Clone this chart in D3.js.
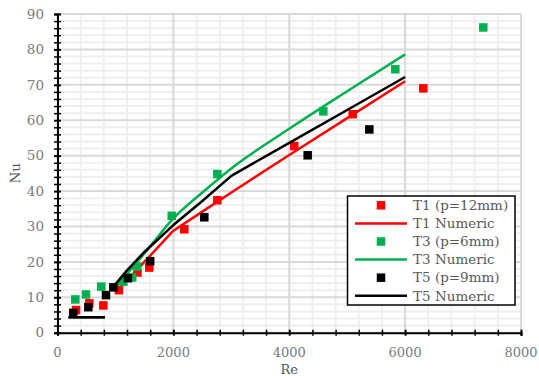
<!DOCTYPE html>
<html>
<head>
<meta charset="utf-8">
<script src="https://d3js.org/d3.v7.min.js"></script>
<style>
  html, body { margin: 0; padding: 0; background: #fff; }
  svg { display: block; }
  text { font-family: "DejaVu Serif", "Liberation Serif", serif; }
</style>
</head>
<body>
<svg id="chart" width="539" height="376"></svg>
<script>
// Experimental Nusselt numbers (square markers)
const reT1 = [320, 549, 791, 1060, 1380, 1584, 2189, 2758, 4087, 5095, 6314];
const nuT1 = [6.4, 8.3, 7.7, 12.0, 17.0, 18.4, 29.2, 37.4, 52.7, 61.7, 69.0];
const reT3 = [307, 492, 756, 1136, 1290, 1370, 1971, 2758, 4588, 5830, 7349];
const nuT3 = [9.4, 10.8, 13.0, 14.4, 15.6, 18.7, 33.0, 44.8, 62.5, 74.4, 86.2];
const reT5 = [273, 532, 837, 964, 1215, 1600, 2534, 4318, 5382];
const nuT5 = [5.6, 7.2, 10.6, 12.8, 15.4, 20.2, 32.6, 50.1, 57.4];

// Numeric predictions: laminar plateau, then turbulent branch
const reLaminar = [190, 820];
const nuLaminar = [4.36, 4.36];
const reTurbulent = [1000, 1200, 1500, 2000, 2500, 3000, 4000, 5000, 6000];
const nuT1Num = [11.0, 14.8, 20.0, 28.8, 34.2, 39.6, 50.2, 60.6, 71.0];
const nuT3Num = [12.8, 16.6, 22.4, 32.3, 39.6, 46.4, 57.6, 68.2, 78.6];
const nuT5Num = [13.7, 17.6, 22.8, 30.4, 37.2, 44.3, 53.6, 62.9, 72.2];

// Axis ticks
const xMajorTicks = [0, 2000, 4000, 6000, 8000];
const yMajorTicks = [0, 10, 20, 30, 40, 50, 60, 70, 80, 90];

const legendLabels = ["T1 (p=12mm)", "T1 Numeric", "T3 (p=6mm)", "T3 Numeric", "T5 (p=9mm)", "T5 Numeric"];

const RED = "#ff0000", GREEN = "#00b050", BLACK = "#000000";

const svg = d3.select("#chart");
const x = d3.scaleLinear().domain([0, 8000]).range([57.5, 521]);
const y = d3.scaleLinear().domain([0, 90]).range([332.7, 14]);

const xMinor = d3.range(0, 8001, 400);
const yMinor = d3.range(0, 90.1, 2);

// Gridlines
const grid = svg.append("g");
grid.selectAll("line.vmin").data(xMinor.filter(v => v % 2000 !== 0)).join("line")
  .attr("x1", d => x(d)).attr("x2", d => x(d)).attr("y1", y(0)).attr("y2", y(90))
  .attr("stroke", "#efefef").attr("stroke-width", 2);
grid.selectAll("line.hmin").data(yMinor.filter(v => v % 10 !== 0)).join("line")
  .attr("x1", x(0)).attr("x2", x(8000)).attr("y1", d => y(d)).attr("y2", d => y(d))
  .attr("stroke", "#efefef").attr("stroke-width", 2);
grid.selectAll("line.vmaj").data(xMajorTicks).join("line")
  .attr("x1", d => x(d)).attr("x2", d => x(d)).attr("y1", y(0)).attr("y2", y(90))
  .attr("stroke", "#d9d9d9").attr("stroke-width", 2);
grid.selectAll("line.hmaj").data(yMajorTicks).join("line")
  .attr("x1", x(0)).attr("x2", x(8000)).attr("y1", d => y(d)).attr("y2", d => y(d))
  .attr("stroke", "#d9d9d9").attr("stroke-width", 2);

// Series drawing helpers
const zip = (a, b) => a.map((v, i) => [v, b[i]]);
const SQ = 8.5;

function markers(res, nus, color) {
  svg.append("g").selectAll("rect").data(zip(res, nus)).join("rect")
    .attr("x", d => x(d[0]) - SQ / 2).attr("y", d => y(d[1]) - SQ / 2)
    .attr("width", SQ).attr("height", SQ).attr("fill", color);
}
function numeric(nus, color, curve) {
  const line = d3.line().x(d => x(d[0])).y(d => y(d[1])).curve(curve || d3.curveLinear);
  const g = svg.append("g").attr("fill", "none").attr("stroke", color)
    .attr("stroke-width", 2.5).attr("stroke-linejoin", "round");
  g.append("path").attr("d", line(zip(reLaminar, nuLaminar)));
  g.append("path").attr("d", line(zip(reTurbulent, nus)));
}

markers(reT1, nuT1, RED);
numeric(nuT1Num, RED);
markers(reT3, nuT3, GREEN);
numeric(nuT3Num, GREEN, d3.curveMonotoneX);
markers(reT5, nuT5, BLACK);
numeric(nuT5Num, BLACK);

// Axes
const xAxis = svg.append("g").attr("transform", `translate(0,${y(0)})`)
  .call(d3.axisBottom(x).tickValues(xMinor).tickSize(3).tickFormat(""));
xAxis.selectAll(".tick line").attr("y1", -3).attr("y2", 3)
  .attr("stroke", "#000").attr("stroke-width", d => d % 2000 === 0 ? 2 : 1.5);
xAxis.select(".domain").attr("stroke", "#000").attr("stroke-width", 2);

const yAxis = svg.append("g").attr("transform", `translate(${x(0)},0)`)
  .call(d3.axisLeft(y).tickValues(yMinor).tickSize(3).tickFormat(""));
yAxis.selectAll(".tick line").attr("x1", -3.5).attr("x2", 3.5)
  .attr("stroke", "#000").attr("stroke-width", d => d % 10 === 0 ? 2 : 1.5);
yAxis.select(".domain").attr("stroke", "#000").attr("stroke-width", 2);

// Tick labels
svg.append("g").selectAll("text").data(xMajorTicks).join("text")
  .attr("x", d => x(d)).attr("y", 357).attr("text-anchor", "middle")
  .attr("font-size", 13).attr("fill", "#7a7a7a").text(d => d);
svg.append("g").selectAll("text").data(yMajorTicks).join("text")
  .attr("x", 44).attr("y", d => y(d)).attr("dy", "0.35em").attr("text-anchor", "end")
  .attr("font-size", 13.5).attr("fill", "#7a7a7a").text(d => d);

// Axis titles
svg.append("text").attr("x", x(4000)).attr("y", 373.5).attr("text-anchor", "middle")
  .attr("font-size", 13).attr("fill", "#595959").text("Re");
svg.append("text").attr("transform", `translate(20,${y(45)}) rotate(-90)`)
  .attr("text-anchor", "middle").attr("font-size", 13.5).attr("fill", "#595959").text("Nu");

// Legend
const lg = svg.append("g");
lg.append("rect").attr("x", 347.5).attr("y", 196).attr("width", 167.5).attr("height", 109)
  .attr("fill", "#fff").attr("stroke", "#000").attr("stroke-width", 1.5);
const legendColors = [RED, RED, GREEN, GREEN, BLACK, BLACK];
legendLabels.forEach((lab, i) => {
  const cy = 205.3 + i * 18.1;
  if (i % 2 === 0) {
    lg.append("rect").attr("x", 381 - SQ / 2).attr("y", cy - SQ / 2)
      .attr("width", SQ).attr("height", SQ).attr("fill", legendColors[i]);
  } else {
    lg.append("line").attr("x1", 355).attr("x2", 407).attr("y1", cy).attr("y2", cy)
      .attr("stroke", legendColors[i]).attr("stroke-width", 2.5);
  }
  lg.append("text").attr("x", 413).attr("y", cy).attr("dy", "0.35em")
    .attr("font-size", 13.5).attr("fill", "#595959").text(lab);
});
</script>
</body>
</html>
